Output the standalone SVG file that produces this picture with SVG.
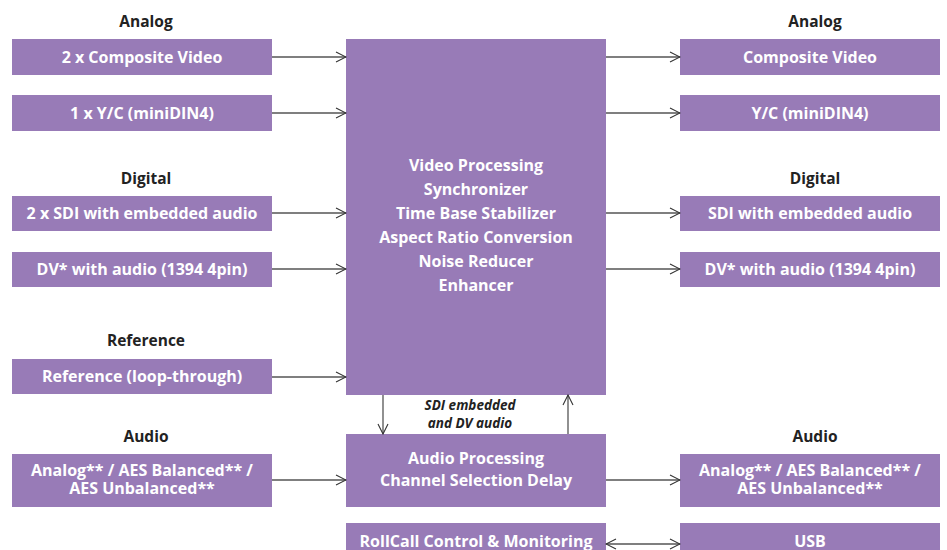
<svg xmlns="http://www.w3.org/2000/svg" width="947" height="550" viewBox="0 0 947 550">
<defs>
<style>
.box{fill:#987bb7}
.t{font-family:"Open Sans","Liberation Sans",sans-serif;font-weight:700;font-size:16px;fill:#ffffff;text-anchor:middle;dominant-baseline:central}
.h{font-family:"Open Sans","Liberation Sans",sans-serif;font-weight:700;font-size:15.5px;fill:#222222;text-anchor:middle;dominant-baseline:central}
.i{font-family:"Open Sans","Liberation Sans",sans-serif;font-weight:700;font-style:italic;font-size:13.5px;fill:#222222;text-anchor:middle;dominant-baseline:central}
.c{stroke:#555555;stroke-width:1.3;fill:none}
</style>
<marker id="ah" viewBox="0 0 12 12" refX="11" refY="6" markerWidth="12" markerHeight="12" markerUnits="userSpaceOnUse" orient="auto-start-reverse">
<path d="M1,1 L11,6 L1,11" fill="none" stroke="#333333" stroke-width="1.1"/>
</marker>
</defs>
<rect width="947" height="550" fill="#ffffff"/>

<g id="headers">
<text class="h" x="146" y="21">Analog</text>
<text class="h" x="815" y="21">Analog</text>
<text class="h" x="146" y="178">Digital</text>
<text class="h" x="815" y="178">Digital</text>
<text class="h" x="146" y="340">Reference</text>
<text class="h" x="146" y="436">Audio</text>
<text class="h" x="815" y="436">Audio</text>
</g>

<g id="in-composite"><rect class="box" x="12" y="39" width="260" height="36"/><text class="t" x="142" y="57">2 x Composite Video</text></g>
<g id="in-yc"><rect class="box" x="12" y="95" width="260" height="36"/><text class="t" x="142" y="113">1 x Y/C (miniDIN4)</text></g>
<g id="in-sdi"><rect class="box" x="12" y="196" width="260" height="35"/><text class="t" x="142" y="213">2 x SDI with embedded audio</text></g>
<g id="in-dv"><rect class="box" x="12" y="252" width="260" height="35"/><text class="t" x="142" y="269">DV* with audio (1394 4pin)</text></g>
<g id="in-ref"><rect class="box" x="12" y="359" width="260" height="35"/><text class="t" x="142" y="376">Reference (loop-through)</text></g>
<g id="in-audio"><rect class="box" x="12" y="454" width="260" height="53"/><text class="t" x="142" y="470">Analog** / AES Balanced** /</text><text class="t" x="142" y="488">AES Unbalanced**</text></g>

<g id="video-proc"><rect class="box" x="346" y="39" width="260" height="356"/>
<text class="t" x="476" y="165">Video Processing</text>
<text class="t" x="476" y="189">Synchronizer</text>
<text class="t" x="476" y="213">Time Base Stabilizer</text>
<text class="t" x="476" y="237">Aspect Ratio Conversion</text>
<text class="t" x="476" y="261">Noise Reducer</text>
<text class="t" x="476" y="285">Enhancer</text>
</g>
<g id="audio-proc"><rect class="box" x="346" y="434" width="260" height="73"/><text class="t" x="476" y="458">Audio Processing</text><text class="t" x="476" y="480">Channel Selection Delay</text></g>
<g id="rollcall"><rect class="box" x="346" y="523" width="260" height="40"/><text class="t" x="476" y="541">RollCall Control &amp; Monitoring</text></g>

<g id="out-composite"><rect class="box" x="680" y="39" width="260" height="36"/><text class="t" x="810" y="57">Composite Video</text></g>
<g id="out-yc"><rect class="box" x="680" y="95" width="260" height="36"/><text class="t" x="810" y="113">Y/C (miniDIN4)</text></g>
<g id="out-sdi"><rect class="box" x="680" y="196" width="260" height="35"/><text class="t" x="810" y="213">SDI with embedded audio</text></g>
<g id="out-dv"><rect class="box" x="680" y="252" width="260" height="35"/><text class="t" x="810" y="269">DV* with audio (1394 4pin)</text></g>
<g id="out-audio"><rect class="box" x="680" y="454" width="260" height="53"/><text class="t" x="810" y="470">Analog** / AES Balanced** /</text><text class="t" x="810" y="488">AES Unbalanced**</text></g>
<g id="usb"><rect class="box" x="680" y="523" width="260" height="40"/><text class="t" x="810" y="541">USB</text></g>

<g id="connectors">
<line class="c" x1="272" y1="57" x2="346" y2="57" marker-end="url(#ah)"/>
<line class="c" x1="272" y1="113" x2="346" y2="113" marker-end="url(#ah)"/>
<line class="c" x1="272" y1="213" x2="346" y2="213" marker-end="url(#ah)"/>
<line class="c" x1="272" y1="269" x2="346" y2="269" marker-end="url(#ah)"/>
<line class="c" x1="272" y1="377" x2="346" y2="377" marker-end="url(#ah)"/>
<line class="c" x1="272" y1="480" x2="346" y2="480" marker-end="url(#ah)"/>
<line class="c" x1="606" y1="57" x2="680" y2="57" marker-end="url(#ah)"/>
<line class="c" x1="606" y1="113" x2="680" y2="113" marker-end="url(#ah)"/>
<line class="c" x1="606" y1="213" x2="680" y2="213" marker-end="url(#ah)"/>
<line class="c" x1="606" y1="269" x2="680" y2="269" marker-end="url(#ah)"/>
<line class="c" x1="606" y1="480" x2="680" y2="480" marker-end="url(#ah)"/>
<line class="c" x1="606" y1="544" x2="680" y2="544" marker-start="url(#ah)" marker-end="url(#ah)"/>
<line class="c" x1="383" y1="395" x2="383" y2="434" marker-end="url(#ah)"/>
<line class="c" x1="568" y1="434" x2="568" y2="395" marker-end="url(#ah)"/>
<text class="i" x="470" y="405">SDI embedded</text>
<text class="i" x="470" y="423">and DV audio</text>
</g>
</svg>
